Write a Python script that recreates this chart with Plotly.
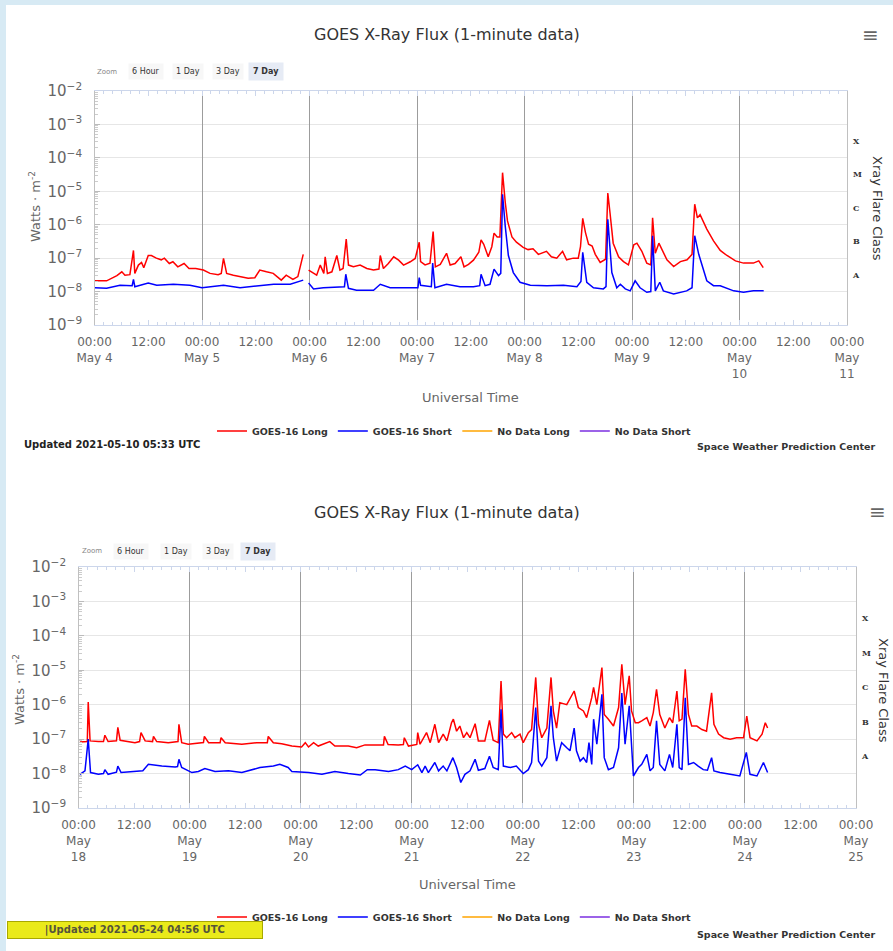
import plotly.graph_objects as go
import pandas as pd

W, H = 893, 951

# ------------------------------------------------------------------
# Data (hours after window start, flux W m^-2)
# ------------------------------------------------------------------
top_start = "2021-05-04"
bot_start = "2021-05-18"

top_long_h = [0, 2.7, 5.0, 6.1, 6.8, 7.9, 8.7, 9.0, 9.8, 10.5, 11.0, 12.0, 12.7, 13.8, 14.9,
              15.6, 16.7, 17.5, 18.6, 20.0, 21.1, 22.6, 24.3, 25.8, 27.6, 28.3, 28.8, 29.5,
              31.0, 32.5, 34.3, 35.8, 36.9, 38.4, 39.9, 41.7, 42.8, 44.3, 45.4, 46.6, 46.9,
              47.8, 48.5, 49.6, 50.4, 51.2, 51.5, 52.0, 53.0, 54.1, 54.8, 55.5, 56.2, 56.7,
              57.8, 59.3, 60.8, 62.3, 63.5, 63.8, 64.5, 65.6, 66.8, 67.9, 69.0, 70.5, 71.6,
              72.5, 72.8, 73.8, 74.9, 75.6, 76.1, 77.2, 78.6, 79.4, 80.5, 81.8, 82.5, 83.5,
              84.6, 85.8, 86.3, 86.9, 87.9, 88.7, 89.2, 89.9, 90.5, 91.1, 91.7, 92.2, 93.2,
              94.2, 95.7, 96.8, 97.9, 99.1, 100.9, 102.0, 103.2, 104.5, 105.4, 106.9, 108.0,
              108.5, 109.0, 109.6, 110.3, 111.1, 111.8, 112.9, 114.1, 114.6, 115.1, 115.8,
              117.0, 118.1, 119.2, 120.4, 121.1, 122.2, 123.3, 124.2, 124.6, 125.2, 126.0,
              126.7, 127.8, 129.3, 130.8, 132.3, 133.4, 134.0, 134.6, 135.2, 136.7, 138.2,
              139.7, 141.2, 143.1, 144.9, 147.1, 148.3, 149.3]
top_long_flux = [2.1e-8, 2.1e-8, 3.0e-8, 3.9e-8, 3.1e-8, 3.2e-8, 1.7e-7, 3.5e-8, 6.2e-8, 7.4e-8,
                 5.2e-8, 1.2e-7, 1.2e-7, 1.0e-7, 8.9e-8, 1.0e-7, 6.9e-8, 7.8e-8, 5.5e-8, 6.9e-8,
                 4.9e-8, 4.9e-8, 4.4e-8, 3.5e-8, 3.2e-8, 3.5e-8, 9.8e-8, 3.5e-8, 3.1e-8, 2.8e-8,
                 2.5e-8, 2.6e-8, 4.4e-8, 3.9e-8, 3.5e-8, 2.2e-8, 3.1e-8, 2.3e-8, 2.8e-8, 1.3e-7,
                 None,
                 4.4e-8, 3.9e-8, 3.1e-8, 6.2e-8, 3.5e-8, 1.1e-7, 3.5e-8, 3.9e-8, 1.2e-7, 4.4e-8,
                 4.9e-8, 3.7e-7, 6.2e-8, 5.5e-8, 6.2e-8, 4.9e-8, 4.4e-8, 4.7e-8, 1.2e-7, 4.9e-8,
                 6.9e-8, 1.1e-7, 8.7e-8, 6.2e-8, 7.8e-8, 9.8e-8, 3.0e-7, 7.9e-8, 6.3e-8, 7.1e-8,
                 6.2e-7, 5.5e-8, 6.5e-8, 1.4e-7, 6.2e-8, 6.9e-8, 1.1e-7, 5.5e-8, 6.5e-8, 8.7e-8,
                 1.5e-7, 3.5e-7, 2.6e-7, 1.1e-7, 2.2e-7, 5.6e-7, 4.3e-7, 4.3e-7, 3.6e-5, 4.7e-6,
                 1.3e-6, 4.3e-7, 3.0e-7, 2.1e-7, 1.8e-7, 1.9e-7, 1.3e-7, 1.6e-7, 1.1e-7, 1.0e-7,
                 1.6e-7, 8.9e-8, 1.0e-7, 1.0e-7, 2.2e-7, 1.55e-6, 5.9e-7, 2.6e-7, 2.3e-7, 1.3e-7,
                 7.4e-8, 9.3e-8, 8.9e-6, 2.2e-6, 2.8e-7, 1.1e-7, 7.9e-8, 6.3e-8, 2.5e-7, 2.8e-7,
                 1.6e-7, 7.1e-8, 6.3e-8, 1.6e-6, 1.4e-7, 2.8e-7, 1.8e-7, 8.9e-8, 5.6e-8, 7.9e-8,
                 8.9e-8, 1.3e-7, 4.1e-6, 1.6e-6, 2.0e-6, 7.4e-7, 3.3e-7, 1.7e-7, 1.2e-7, 8.3e-8,
                 7.1e-8, 7.1e-8, 8.3e-8, 5.2e-8]

top_short_h = [0.1, 2.7, 5.7, 7.9, 8.4, 8.7, 9.0, 12.0, 13.9, 17.6, 21.3, 24.0, 28.8, 32.5,
               36.2, 40.0, 43.7, 46.6, 46.9, 47.8, 48.9, 51.1, 54.1, 55.8, 56.1, 56.7, 58.5,
               62.3, 63.8, 66.0, 69.7, 72.2, 72.5, 72.8, 75.2, 75.5, 76.0, 78.6, 81.6, 84.6,
               86.0, 86.3, 87.2, 88.3, 89.2, 90.2, 90.7, 91.1, 91.7, 92.4, 93.5, 95.0, 97.3,
               101.0, 104.7, 107.7, 108.6, 109.0, 109.9, 111.4, 113.6, 114.2, 114.6, 115.5,
               116.6, 117.4, 118.5, 119.6, 120.7, 121.8, 123.3, 124.2, 124.6, 125.2, 126.2,
               127.0, 129.3, 132.2, 133.4, 134.0, 134.9, 136.7, 138.2, 139.7, 142.7, 144.9,
               147.1, 149.4]
top_short_flux = [1.3e-8, 1.25e-8, 1.55e-8, 1.5e-8, 1.5e-8, 2.3e-8, 1.4e-8, 1.8e-8, 1.55e-8,
                  1.65e-8, 1.55e-8, 1.3e-8, 1.55e-8, 1.3e-8, 1.5e-8, 1.65e-8, 1.65e-8, 2.2e-8,
                  None,
                  1.8e-8, 1.2e-8, 1.3e-8, 1.4e-8, 1.4e-8, 3.3e-8, 1.25e-8, 1.1e-8, 1.1e-8,
                  1.65e-8, 1.3e-8, 1.3e-8, 1.3e-8, 2.6e-8, 1.55e-8, 1.4e-8, 7.1e-8, 1.3e-8,
                  1.65e-8, 1.4e-8, 1.4e-8, 1.5e-8, 3.3e-8, 1.5e-8, 1.65e-8, 4.7e-8, 3.0e-8,
                  3.5e-8, 8.1e-6, 9.1e-7, 1.2e-7, 3.7e-8, 1.9e-8, 1.55e-8, 1.5e-8, 1.55e-8,
                  1.4e-8, 2.0e-8, 1.5e-7, 1.9e-8, 1.3e-8, 1.2e-8, 1.4e-8, 1.45e-6, 3.7e-8,
                  1.3e-8, 1.65e-8, 1.2e-8, 1.05e-8, 2.1e-8, 1.3e-8, 9.5e-9, 1.0e-8, 4.7e-7,
                  1.05e-8, 1.9e-8, 1.05e-8, 8.5e-9, 1.05e-8, 1.3e-8, 4.7e-7, 1.3e-7, 2.1e-8,
                  1.5e-8, 1.5e-8, 1.05e-8, 9.5e-9, 1.05e-8, 1.05e-8]

bot_long_h = [0.3, 1.9, 2.1, 2.5, 4.3, 5.4, 5.7, 6.4, 8.2, 8.5, 9.0, 10.8, 12.2, 13.2, 13.5,
              14.4, 16.0, 16.2, 16.9, 19.4, 20.9, 21.5, 21.7, 22.3, 23.7, 25.9, 27.0, 27.2,
              28.1, 30.6, 30.8, 31.7, 35.3, 38.5, 40.8, 41.0, 42.1, 43.9, 46.1, 48.2, 49.0,
              49.7, 50.8, 51.8, 54.3, 55.4, 58.3, 60.1, 61.9, 64.1, 65.9, 66.1, 66.9, 69.1,
              70.2, 70.4, 71.3, 73.1, 73.3, 73.8, 74.5, 75.2, 76.0, 77.0, 77.8, 78.8, 79.6,
              80.6, 81.0, 81.7, 82.4, 83.2, 83.9, 84.6, 85.7, 86.4, 87.8, 88.8, 89.6, 90.7,
              91.3, 91.8, 92.5, 93.6, 94.3, 95.4, 96.1, 97.2, 97.9, 98.8, 99.4, 100.1, 101.2,
              102.1, 102.6, 103.3, 104.0, 105.5, 107.1, 108.0, 109.1, 109.8, 110.9, 111.3,
              112.0, 113.1, 113.6, 114.5, 115.6, 116.7, 117.4, 118.1, 119.0, 119.5, 120.3,
              121.0, 121.7, 122.8, 123.5, 124.2, 124.9, 125.6, 126.7, 127.7, 128.4, 129.3,
              129.8, 130.4, 131.1, 131.8, 132.5, 133.6, 134.7, 135.7, 136.8, 137.3, 138.3,
              139.4, 140.8, 142.2, 143.7, 144.4, 145.1, 146.6, 147.7, 148.4, 148.9]
bot_long_flux = [8.3e-8, 8.5e-8, 1.2e-6, 8.9e-8, 8.5e-8, 8.5e-8, 1.3e-7, 8.5e-8, 9.0e-8, 2.2e-7,
                 9.3e-8, 8.5e-8, 7.9e-8, 8.5e-8, 1.55e-7, 8.9e-8, 8.5e-8, 1.2e-7, 8.5e-8,
                 7.9e-8, 8.5e-8, 8.5e-8, 2.7e-7, 7.9e-8, 7.1e-8, 7.9e-8, 8.0e-8, 1.2e-7, 7.9e-8,
                 7.9e-8, 1.1e-7, 7.9e-8, 7.1e-8, 7.9e-8, 7.9e-8, 1.2e-7, 7.9e-8, 7.4e-8, 6.3e-8,
                 5.9e-8, 7.9e-8, 5.9e-8, 7.9e-8, 6.3e-8, 8.5e-8, 6.3e-8, 6.3e-8, 5.6e-8, 6.8e-8,
                 6.8e-8, 6.8e-8, 1.2e-7, 7.0e-8, 6.8e-8, 7.0e-8, 1.1e-7, 6.3e-8, 7.0e-8, 1.55e-7,
                 7.1e-8, 1.1e-7, 1.55e-7, 7.9e-8, 2.7e-7, 7.9e-8, 1.4e-7, 8.9e-8, 3.0e-7, 3.8e-7,
                 1.7e-7, 2.4e-7, 1.1e-7, 1.55e-7, 1.1e-7, 2.8e-7, 8.9e-8, 8.9e-8, 3.5e-7, 9.3e-8,
                 7.9e-8, 4.9e-6, 1.4e-7, 1.1e-7, 1.55e-7, 1.1e-7, 1.4e-7, 7.9e-8, 1.55e-7, 1.9e-7,
                 6.2e-6, 2.7e-7, 1.1e-7, 2.1e-7, 6.2e-6, 6.6e-7, 2.1e-7, 1.15e-6, 1.0e-6, 2.5e-6,
                 8.3e-7, 6.6e-7, 4.2e-7, 1.6e-6, 3.2e-6, 1.0e-6, 1.2e-5, 5.2e-7, 3.8e-7, 2.4e-7,
                 8.3e-7, 1.5e-5, 1.0e-6, 6.9e-6, 6.6e-7, 3.0e-7, 3.0e-7, 3.4e-7, 4.2e-7, 2.4e-7,
                 5.9e-7, 2.8e-6, 5.2e-7, 2.1e-7, 4.2e-7, 3.0e-7, 2.5e-6, 3.4e-7, 3.8e-7, 1.07e-5,
                 5.2e-7, 2.4e-7, 2.4e-7, 1.9e-7, 1.7e-7, 2.2e-6, 2.7e-7, 1.4e-7, 1.1e-7, 1.0e-7,
                 1.1e-7, 1.1e-7, 4.7e-7, 1.1e-7, 8.9e-8, 1.4e-7, 3.0e-7, 2.1e-7]

bot_short_h = [0.3, 1.4, 2.1, 2.6, 4.3, 5.4, 5.7, 6.4, 8.2, 8.5, 9.2, 12.2, 13.9, 15.1, 18.0,
               20.9, 21.4, 21.7, 22.3, 24.5, 25.9, 27.3, 29.5, 32.4, 35.3, 39.2, 42.1, 43.5,
               45.3, 46.1, 49.7, 52.6, 55.4, 58.3, 60.9, 62.4, 64.1, 67.0, 69.1, 70.6, 72.0,
               73.3, 74.2, 74.9, 75.6, 77.0, 77.8, 78.8, 79.6, 80.9, 81.7, 82.6, 83.5, 84.6,
               85.7, 86.4, 87.8, 88.8, 89.6, 90.7, 91.3, 91.8, 93.3, 94.6, 96.1, 97.2, 97.9,
               98.8, 99.4, 100.1, 101.2, 102.1, 102.6, 103.3, 104.4, 105.5, 106.2, 107.1, 107.6,
               108.4, 109.1, 109.8, 110.3, 110.9, 111.3, 112.0, 113.1, 113.6, 114.5, 115.6,
               116.7, 117.4, 118.1, 119.0, 119.9, 121.0, 121.7, 122.8, 123.5, 124.2, 124.9,
               125.6, 126.7, 127.7, 128.4, 129.3, 129.8, 130.4, 131.1, 131.8, 132.9, 133.9,
               135.0, 135.9, 136.8, 137.3, 138.6, 140.8, 142.9, 144.3, 145.1, 146.6, 148.0,
               148.9]
bot_short_flux = [9.5e-9, 1.2e-8, 1.0e-7, 1.07e-8, 9.5e-9, 1.0e-8, 1.3e-8, 9.5e-9, 1.1e-8,
                  1.65e-8, 1.07e-8, 1.15e-8, 1.2e-8, 1.85e-8, 1.65e-8, 1.55e-8, 1.6e-8, 2.6e-8,
                  1.5e-8, 1.07e-8, 1.15e-8, 1.4e-8, 1.15e-8, 1.2e-8, 1.07e-8, 1.5e-8, 1.65e-8,
                  1.85e-8, 1.5e-8, 1.15e-8, 1.07e-8, 9.5e-9, 1.15e-8, 1.0e-8, 9.1e-9, 1.3e-8,
                  1.3e-8, 1.15e-8, 1.3e-8, 1.65e-8, 1.3e-8, 1.8e-8, 1.07e-8, 1.65e-8, 1.07e-8,
                  2.1e-8, 1.2e-8, 1.65e-8, 1.2e-8, 2.9e-8, 1.5e-8, 5.5e-9, 9.5e-9, 1.2e-8,
                  2.6e-8, 1.25e-8, 1.4e-8, 3.2e-8, 1.5e-8, 1.3e-8, 7.4e-7, 1.65e-8, 1.5e-8,
                  1.65e-8, 1.0e-8, 1.3e-8, 2.1e-8, 8.3e-7, 2.3e-8, 1.65e-8, 2.9e-8, 9.3e-7,
                  1.1e-7, 2.3e-8, 7.9e-8, 5.6e-8, 4.6e-8, 2.1e-7, 4.6e-8, 2.3e-8, 2.9e-8,
                  2.1e-8, 7.9e-8, 1.85e-8, 3.8e-7, 7.1e-8, 2.0e-6, 2.9e-8, 1.3e-8, 1.5e-8,
                  5.6e-8, 2.2e-6, 7.1e-8, 9.3e-7, 8.5e-9, 1.5e-8, 1.85e-8, 3.6e-8, 1.2e-8,
                  1.5e-8, 3.4e-7, 1.85e-8, 1.2e-8, 3.6e-8, 1.5e-8, 2.7e-7, 1.5e-8, 1.3e-8,
                  1.6e-6, 1.85e-8, 2.1e-8, 1.65e-8, 1.3e-8, 1.25e-8, 2.9e-8, 1.2e-8, 1.07e-8,
                  9.5e-9, 8.5e-9, 4.1e-8, 9.5e-9, 8.5e-9, 2.1e-8, 1.07e-8]

top_days = ["4", "5", "6", "7", "8", "9", "10", "11"]
bot_days = ["18", "19", "20", "21", "22", "23", "24", "25"]
class_labels = ["X", "M", "C", "B", "A"]
class_levels = [10 ** -3.5, 10 ** -4.5, 10 ** -5.5, 10 ** -6.5, 10 ** -7.5]

series_names = ["GOES-16 Long", "GOES-16 Short", "No Data Long", "No Data Short"]
series_colors = ["#ff0000", "#0000ff", "#ffa500", "#7b2fe0"]

FONT = "DejaVu Sans"


def to_times(start, hours):
    return pd.Timestamp(start) + pd.to_timedelta(hours, unit="h")


def tick_setup(start, days, wrap_from):
    vals, text = [], []
    for i, d in enumerate(days):
        vals.append(pd.Timestamp(start) + pd.Timedelta(days=i))
        if i >= wrap_from:
            text.append("00:00<br>May<br>" + d)
        else:
            text.append("00:00<br>May " + d)
        if i < len(days) - 1:
            vals.append(pd.Timestamp(start) + pd.Timedelta(days=i, hours=12))
            text.append("12:00")
    return vals, text


def px(x):
    return x / W


def py(y):
    return 1 - y / H


fig = go.Figure()

panels = [
    dict(start=top_start, days=top_days, wrap=6, xa="x", ya="y", xg="x3", yc="y3",
         leg="legend", data=[(top_long_h, top_long_flux), (top_short_h, top_short_flux)],
         xdom=[94.5, 847], ydom=[91, 325]),
    dict(start=bot_start, days=bot_days, wrap=0, xa="x2", ya="y2", xg="x4", yc="y4",
         leg="legend2", data=[(bot_long_h, bot_long_flux), (bot_short_h, bot_short_flux)],
         xdom=[78.5, 856], ydom=[567, 808]),
]

layout = {}
for p in panels:
    # the empty "No Data" series sit on the overlay axes so that those axes get drawn
    axes_for = [(p["xa"], p["ya"]), (p["xa"], p["ya"]), (p["xg"], p["ya"]), (p["xa"], p["yc"])]
    for k in range(4):
        if k < 2:
            hrs, flux = p["data"][k]
            xs, ys = to_times(p["start"], hrs), flux
        else:
            xs, ys = [None], [None]
        fig.add_trace(go.Scatter(
            x=xs, y=ys, mode="lines", name=series_names[k],
            line=dict(color=series_colors[k], width=1.5),
            xaxis=axes_for[k][0], yaxis=axes_for[k][1], legend=p["leg"],
            connectgaps=False, hoverinfo="skip"))

    t0 = pd.Timestamp(p["start"])
    t1 = t0 + pd.Timedelta(days=7)
    tv, tt = tick_setup(p["start"], p["days"], p["wrap"])
    xdom = [px(p["xdom"][0]), px(p["xdom"][1])]
    ydom = [py(p["ydom"][1]), py(p["ydom"][0])]
    xn = "xaxis" + p["xa"][1:]
    yn = "yaxis" + p["ya"][1:]
    layout[xn] = dict(
        domain=xdom, anchor=p["ya"], type="date", range=[t0, t1],
        tickmode="array", tickvals=tv, ticktext=tt, showgrid=False,
        ticks="inside", ticklen=5, tickcolor="#ccd6eb", ticklabelstandoff=6,
        showline=True, linecolor="#ccd6eb", linewidth=1, mirror="ticks",
        tickfont=dict(family=FONT, size=12, color="#666666"),
        minor=dict(ticks="inside", ticklen=3, tickcolor="#ccd6eb", dtick=2 * 3600 * 1000,
                   showgrid=False),
        automargin=False, zeroline=False, fixedrange=True)
    layout[yn] = dict(
        domain=ydom, anchor=p["xa"], type="log", range=[-9, -2], dtick=1,
        exponentformat="power", showgrid=True, gridcolor="#e6e6e6", gridwidth=1,
        ticks="inside", ticklen=5, tickcolor="#bbbbbb", ticklabelstandoff=9,
        showline=True, linecolor="#c0c0c0", linewidth=1, mirror=True,
        tickfont=dict(family=FONT, size=12, color="#666666"),
        minor=dict(ticks="inside", ticklen=3, tickcolor="#cccccc", showgrid=False),
        automargin=False, zeroline=False, fixedrange=True)
    # midnight grid lines
    layout["xaxis" + p["xg"][1:]] = dict(
        overlaying=p["xa"], anchor=p["ya"], type="date", range=[t0, t1],
        tickmode="array", tickvals=[t0 + pd.Timedelta(days=i) for i in range(8)],
        showgrid=True, gridcolor="#9c9c9c", gridwidth=1, showticklabels=False,
        ticks="", showline=False, zeroline=False, automargin=False, fixedrange=True)
    # flare class axis on the right
    layout["yaxis" + p["yc"][1:]] = dict(
        overlaying=p["ya"], anchor=p["xa"], side="right", type="log", range=[-9, -2],
        tickmode="array", tickvals=class_levels, ticktext=class_labels,
        showgrid=False, ticks="", showline=False, zeroline=False, ticklabelstandoff=5,
        tickfont=dict(family="DejaVu Serif", size=8, color="#333333", weight="bold"),
        automargin=False, fixedrange=True)

legend_common = dict(orientation="h", xanchor="center", yanchor="middle",
                     bgcolor="rgba(0,0,0,0)", itemwidth=30, tracegroupgap=0,
                     font=dict(family=FONT, size=9.5, color="#333333", weight="bold"))
layout["legend"] = dict(legend_common, x=px(454), y=py(431))
layout["legend2"] = dict(legend_common, x=px(454), y=py(917))

ann = []


def add_text(x, y, text, size, color="#333333", xanchor="center", weight="normal",
             angle=0, bg=None, border=None, family=FONT, pad=1):
    a = dict(x=px(x), y=py(y), xref="paper", yref="paper", text=text, showarrow=False,
             xanchor=xanchor, yanchor="middle", textangle=angle,
             font=dict(family=family, size=size, color=color, weight=weight), borderpad=pad)
    if bg:
        a["bgcolor"] = bg
    if border:
        a["bordercolor"] = border
        a["borderwidth"] = 1
    ann.append(a)


for (ty, zy, cx, ham_x, ham_y, zx, ytit, xtit, rt_x, rt_y) in [
        (35, 72, 447, 870, 35, [95, 128, 172, 212, 248], (35, 207), (470, 397), 877, 208),
        (512, 551, 447, 877, 512, [80, 113, 160, 202, 240], (19, 690), (467, 884), 884, 690)]:
    add_text(cx, ty, "GOES X-Ray Flux (1-minute data)", 16, "#333333")
    add_text(ham_x, ham_y, "\u2261", 20, "#666666")
    add_text(zx[0], zy, "Zoom", 7, "#888888", xanchor="left")
    add_text(zx[1], zy, "6 Hour", 8, "#333333", xanchor="left", bg="#f7f7f7", pad=3)
    add_text(zx[2], zy, "1 Day", 8, "#333333", xanchor="left", bg="#f7f7f7", pad=3)
    add_text(zx[3], zy, "3 Day", 8, "#333333", xanchor="left", bg="#f7f7f7", pad=3)
    add_text(zx[4], zy, "<b>7 Day</b>", 8, "#333333", xanchor="left", bg="#e6ebf5", pad=4)
    add_text(ytit[0], ytit[1], "Watts \u00b7 m<sup>-2</sup>", 13, "#666666", angle=-90)
    add_text(xtit[0], xtit[1], "Universal Time", 13, "#666666")
    add_text(rt_x, rt_y, "Xray Flare Class", 13, "#333333", angle=90)

add_text(22, 444, "Updated 2021-05-10 05:33 UTC", 10, "#222222", xanchor="left", weight="bold")
add_text(878, 447, "Space Weather Prediction Center", 9.5, "#333333", xanchor="right",
         weight="bold")
add_text(7, 930,
         "\u00a0" * 10 + "|Updated 2021-05-24 04:56 UTC" + "\u00a0" * 10,
         10, "#55553a", xanchor="left", weight="bold", bg="#eaea1a", border="#a8a800", pad=2)
add_text(878, 934, "Space Weather Prediction Center", 9.5, "#333333", xanchor="right",
         weight="bold")

layout["annotations"] = ann
layout["shapes"] = [dict(type="rect", xref="paper", yref="paper", x0=px(6), x1=1,
                         y0=0, y1=py(5), fillcolor="#ffffff", line=dict(width=0),
                         layer="below")]

fig.update_layout(
    width=W, height=H, margin=dict(l=0, r=0, t=0, b=0, pad=0),
    paper_bgcolor="#d7eaf4", plot_bgcolor="#ffffff",
    font=dict(family=FONT, color="#333333"), showlegend=True,
    **layout)

fig.write_html("out.html")
